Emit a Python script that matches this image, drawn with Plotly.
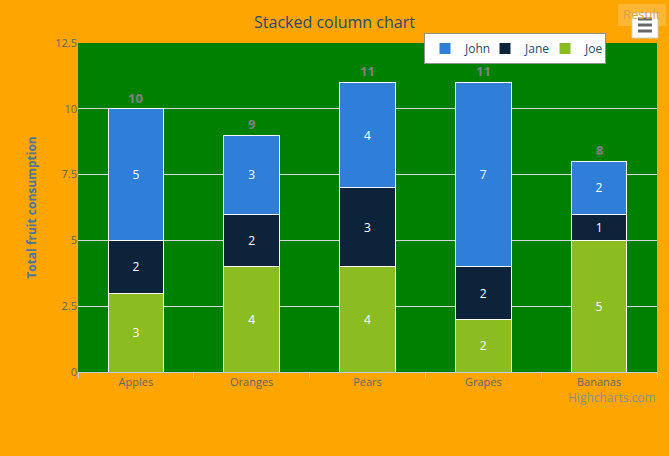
import plotly.graph_objects as go

categories = ["Apples", "Oranges", "Pears", "Grapes", "Bananas"]
john = [5, 3, 4, 7, 2]
jane = [2, 2, 3, 2, 1]
joe = [3, 4, 4, 2, 5]

series = [("Joe", joe, "#8BBC21"), ("Jane", jane, "#0D233A"), ("John", john, "#2F7ED8")]

W, H = 669, 456
ml, mr, mt, mb = 78, 12, 43, 84


def px_x(p):
    return (p - ml) / (W - ml - mr)


def px_y(p):
    return (H - mb - p) / (H - mt - mb)


fig = go.Figure()
for name, vals, col in series:
    fig.add_trace(go.Bar(
        x=categories, y=vals, name=name,
        marker=dict(color=col, line=dict(color="white", width=1)),
        text=vals, texttemplate="%{text}", textposition="inside",
        insidetextanchor="middle", textangle=0,
        textfont=dict(color="white", size=12, family="Open Sans"),
        hoverinfo="skip",
    ))

totals = [a + b + c for a, b, c in zip(john, jane, joe)]
annotations = []
for cat, t in zip(categories, totals):
    annotations.append(dict(x=cat, y=t, xref="x", yref="y", text=f"<b>{t}</b>",
                            showarrow=False, yanchor="bottom", yshift=0,
                            font=dict(color="#808080", size=13, family="Open Sans")))

annotations.append(dict(x=px_x(658), y=px_y(387), xref="paper", yref="paper", text="Highcharts.com",
                        showarrow=False, xanchor="right", yanchor="top",
                        font=dict(color="#909090", size=12, family="Open Sans")))
annotations.append(dict(x=px_x(642), y=px_y(14), xref="paper", yref="paper", text="Result",
                        showarrow=False, xanchor="center", yanchor="middle",
                        font=dict(color="#DDA040", size=13, family="Open Sans")))

shapes = [
    dict(type="rect", xref="paper", yref="paper", x0=px_x(618), x1=px_x(666), y0=px_y(4), y1=px_y(26),
         fillcolor="#FFB733", line=dict(width=0), layer="below"),
    dict(type="rect", xref="paper", yref="paper", x0=px_x(632), x1=px_x(658), y0=px_y(13), y1=px_y(38),
         fillcolor="white", line=dict(color="#CCCCCC", width=1), layer="above"),
]
for yy in (19, 25, 31):
    shapes.append(dict(type="line", xref="paper", yref="paper", x0=px_x(638), x1=px_x(652),
                       y0=px_y(yy), y1=px_y(yy), line=dict(color="#666666", width=3), layer="above"))

fig.update_layout(
    width=W, height=H,
    margin=dict(l=ml, r=mr, t=mt, b=mb),
    paper_bgcolor="#FFA500", plot_bgcolor="#008000",
    barmode="stack", bargap=0.52,
    title=dict(text="Stacked column chart", x=0.5, xref="container", xanchor="center",
               y=1 - 22 / H, yref="container", yanchor="middle",
               font=dict(color="#274B6D", size=16, family="Open Sans")),
    font=dict(family="Open Sans"),
    xaxis=dict(showgrid=False, showline=True, linecolor="#C0D0E0", linewidth=1,
               ticks="outside", tickson="boundaries", ticklen=5, tickcolor="#C0D0E0",
               tickfont=dict(color="#666666", size=11)),
    yaxis=dict(range=[0, 12.5], dtick=2.5, showgrid=True, gridcolor="#D8D8D8", gridwidth=1,
               zeroline=False, showline=False, ticks="", tickfont=dict(color="#666666", size=11),
               title=dict(text="<b>Total fruit consumption</b>", standoff=16,
                          font=dict(color="#4D759E", size=12, family="Open Sans"))),
    legend=dict(orientation="h", x=px_x(424), y=px_y(33), xanchor="left", yanchor="top",
                bgcolor="white", bordercolor="#909090", borderwidth=1, traceorder="reversed",
                font=dict(color="#274B6D", size=12, family="Open Sans"),
                itemwidth=30, entrywidth=15, entrywidthmode="pixels",
                tracegroupgap=0),
    annotations=annotations, shapes=shapes,
)

fig.write_html("out.html")
